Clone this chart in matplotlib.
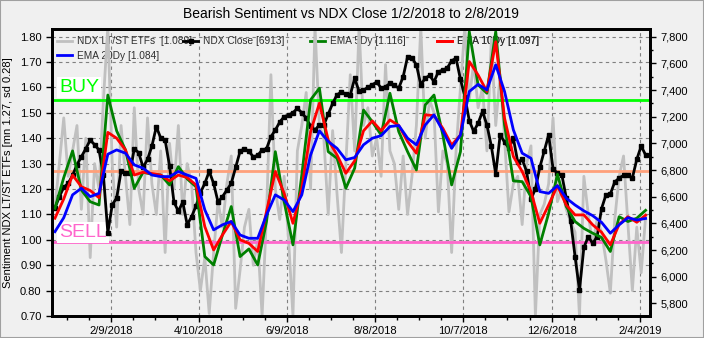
import pandas as pd
import matplotlib
matplotlib.use("Agg")
import matplotlib.pyplot as plt
import matplotlib.ticker as mticker
import matplotlib.transforms as mtransforms
from matplotlib.patches import Rectangle

plt.rcParams['font.family'] = ['Liberation Sans', 'DejaVu Sans']

# raw sentiment, every 3rd day 1/2/2018 .. 2/8/2019 (left axis)
sentiment = [
    1.13, 1.30, 1.48, 1.25, 1.35, 1.45, 1.12, 1.40, 0.93, 1.30,
    1.20, 1.55, 1.84, 1.30, 1.05, 1.45, 1.25, 1.06, 1.52, 1.20,
    1.10, 1.48, 1.22, 1.10, 1.35, 0.95, 1.38, 1.20, 1.45, 1.10,
    1.30, 1.22, 0.95, 0.80, 0.93, 0.71, 0.95, 1.15, 1.05, 1.22,
    1.33, 0.73, 0.88, 1.05, 1.12, 0.90, 1.00, 0.70, 1.10, 1.65,
    1.20, 1.08, 1.25, 1.00, 0.70, 1.35, 1.45, 1.58, 1.20, 1.84,
    1.45, 1.40, 1.10, 1.43, 1.18, 0.95, 1.30, 1.65, 1.35, 1.84,
    1.45, 1.52, 1.33, 1.40, 1.25, 1.69, 1.35, 1.30, 1.12, 1.33,
    1.10, 1.25, 1.45, 1.84, 1.40, 1.55, 1.50, 1.11, 1.35, 1.30,
    0.95, 1.35, 1.60, 1.84, 1.55, 1.70, 1.52, 1.60, 1.35, 1.79,
    1.45, 1.65, 1.40, 1.11, 1.22, 1.25, 1.06, 1.30, 1.37, 0.70,
    1.10, 1.14, 1.22, 1.48, 1.15, 1.20, 1.12, 1.07, 1.03, 0.70,
    1.25, 1.10, 0.98, 1.08, 1.03, 0.92, 0.79, 1.08, 1.25, 1.33,
    1.06, 0.80, 1.05, 0.87, 1.089,
]

# NDX close, same dates (right axis)
ndx_close = [
    6515, 6600, 6670, 6700, 6760, 6840, 6900, 6960, 7025, 6990,
    6950, 6760, 6330, 6540, 6590, 6790, 6780, 6775, 6960, 6930,
    6820, 6880, 6980, 7125, 7040, 7025, 6830, 6560, 6490, 6560,
    6390, 6450, 6530, 6630, 6700, 6790, 6700, 6560, 6600, 6650,
    6700, 6820, 6940, 6960, 6940, 6900, 6910, 6950, 6960, 7050,
    7100, 7160, 7200, 7213, 7230, 7263, 7230, 7190, 7130, 7100,
    7138, 7138, 7220, 7300, 7365, 7385, 7370, 7363, 7488, 7390,
    7400, 7420, 7440, 7460, 7415, 7425, 7450, 7435, 7415, 7500,
    7650, 7640, 7590, 7440, 7488, 7510, 7463, 7538, 7550, 7565,
    7620, 7638, 7480, 7350, 7170, 7090, 7150, 7240, 7138, 6980,
    6770, 7063, 7010, 6963, 7038, 6860, 6880, 6790, 6580, 6660,
    6820, 6940, 7063, 6810, 6775, 6763, 6590, 6420, 6150, 5900,
    6220, 6300, 6250, 6300, 6510, 6613, 6620, 6710, 6740, 6760,
    6760, 6740, 6880, 6980, 6913,
]

# EMAs, every 6th day
ema5 = [
    1.124, 1.245, 1.350, 1.196, 1.150, 1.137, 1.570, 1.429, 1.354, 1.203, 1.266, 1.258, 1.255, 1.216, 1.288, 1.240, 1.209,
    0.934, 0.901, 1.019, 1.131, 0.934, 0.964, 0.901, 1.072, 1.347, 1.150, 0.980, 1.255, 1.551, 1.597, 1.347, 1.321, 1.203,
    1.282, 1.511, 1.465, 1.413, 1.577, 1.426, 1.347, 1.275, 1.531, 1.570, 1.413, 1.216, 1.347, 1.820, 1.610, 1.577, 1.820,
    1.452, 1.232, 1.229, 1.170, 0.980, 1.104, 1.258, 1.131, 1.072, 1.045, 1.026, 1.009, 0.954, 1.091, 1.072, 1.085, 1.116,
]
ema10 = [
    1.085, 1.161, 1.255, 1.209, 1.194, 1.166, 1.423, 1.400, 1.354, 1.255, 1.266, 1.261, 1.255, 1.232, 1.255, 1.245, 1.216,
    1.052, 0.960, 1.019, 1.072, 1.000, 0.986, 0.954, 1.111, 1.269, 1.183, 1.065, 1.203, 1.426, 1.538, 1.393, 1.334, 1.262,
    1.311, 1.429, 1.468, 1.429, 1.472, 1.450, 1.387, 1.341, 1.492, 1.489, 1.439, 1.373, 1.413, 1.702, 1.649, 1.584, 1.780,
    1.479, 1.328, 1.269, 1.190, 1.065, 1.137, 1.213, 1.137, 1.098, 1.098, 1.059, 1.030, 0.980, 1.061, 1.091, 1.069, 1.097,
]
ema20 = [
    1.032, 1.087, 1.177, 1.203, 1.170, 1.183, 1.337, 1.354, 1.341, 1.295, 1.282, 1.255, 1.249, 1.249, 1.269, 1.255, 1.242,
    1.118, 1.039, 1.059, 1.072, 1.019, 1.006, 1.006, 1.098, 1.177, 1.157, 1.111, 1.177, 1.334, 1.429, 1.387, 1.360, 1.315,
    1.324, 1.374, 1.400, 1.410, 1.446, 1.450, 1.400, 1.374, 1.452, 1.492, 1.429, 1.360, 1.413, 1.584, 1.612, 1.590, 1.689,
    1.584, 1.433, 1.341, 1.321, 1.190, 1.183, 1.213, 1.164, 1.137, 1.114, 1.095, 1.069, 1.026, 1.059, 1.087, 1.078, 1.084,
]

MEAN = 1.27
BUY = 1.55
SELL = 0.99

START, END = '2018-01-02', '2019-02-08'
x_raw = pd.date_range(START, END, periods=len(sentiment))
x_ndx = pd.date_range(START, END, periods=len(ndx_close))
x_ema = pd.date_range(START, END, periods=len(ema5))

BG = '#F0F0F0'
fig = plt.figure(figsize=(7.04, 3.38), dpi=100, facecolor=BG)
ax = fig.add_axes([52 / 704, 22 / 338, 598 / 704, 287 / 338], facecolor=BG)
ax2 = ax.twinx()

ax.set_xlim(pd.Timestamp('2017-12-31'), pd.Timestamp('2019-02-11'))
ax.set_ylim(0.70, 1.83)
ax2.set_ylim(5705, 7858)

# black line lives on ax but uses the right-hand scale, so EMAs can sit on top
ndx_trans = mtransforms.blended_transform_factory(ax.transData, ax2.transData)

l_raw, = ax.plot(x_raw, sentiment, color='#C0C0C0', lw=2, zorder=1, label='NDX LT/ST ETFs  [1.089]')
ax.axhline(BUY, color='#00FF00', lw=2, zorder=1.5)
ax.axhline(MEAN, color='#FFA07A', lw=2, zorder=1.5)
ax.axhline(SELL, color='#FF66CC', lw=2, zorder=1.5)
ax.text(pd.Timestamp('2018-01-05'), 1.60, 'BUY', color='#00FF00', fontsize=14, va='center', ha='left',
        zorder=1.8, bbox=dict(facecolor='white', edgecolor='none', pad=1.5))
ax.text(pd.Timestamp('2018-01-05'), 1.03, 'SELL', color='#FF66CC', fontsize=14, va='center', ha='left',
        zorder=1.8, bbox=dict(facecolor='white', edgecolor='none', pad=1.5))
l_ndx, = ax.plot(x_ndx, ndx_close, color='black', lw=2, marker='s', ms=2.5, transform=ndx_trans,
                 zorder=2, label='NDX Close [6913]')
l_e5, = ax.plot(x_ema, ema5, color='#008000', lw=2, zorder=3, label='EMA 5Dy [1.116]')
l_e10, = ax.plot(x_ema, ema10, color='#FF0000', lw=2, zorder=4, label='EMA 10Dy [1.097]')
l_e20, = ax.plot(x_ema, ema20, color='#0000FF', lw=2, zorder=5, label='EMA 20Dy [1.084]')

ax.set_title('Bearish Sentiment vs NDX Close 1/2/2018 to 2/8/2019', fontsize=10, pad=8)
ax.set_ylabel('Sentiment NDX LT/ST ETFs [mn 1.27, sd 0.28]', fontsize=8, labelpad=5)

# x ticks every 60 days, minor every 15
major = pd.date_range('2018-02-09', periods=7, freq='60D')
minor = pd.date_range('2018-01-10', '2019-02-11', freq='15D')
ax.xaxis.set_major_locator(mticker.FixedLocator(matplotlib.dates.date2num(major)))
ax.xaxis.set_minor_locator(mticker.FixedLocator(matplotlib.dates.date2num(minor)))
ax.xaxis.set_major_formatter(mticker.FuncFormatter(
    lambda v, p: (lambda d: f'{d.month}/{d.day}/{d.year}')(matplotlib.dates.num2date(v))))

ax.yaxis.set_major_locator(mticker.MultipleLocator(0.1))
ax.yaxis.set_major_formatter(mticker.FormatStrFormatter('%.2f'))
ax2.yaxis.set_major_locator(mticker.MultipleLocator(200))
ax2.yaxis.set_minor_locator(mticker.MultipleLocator(100))
ax2.yaxis.set_major_formatter(mticker.StrMethodFormatter('{x:,.0f}'))

ax.tick_params(axis='both', which='major', direction='out', length=4, width=1, labelsize=8, color='black')
ax.tick_params(axis='x', which='minor', direction='out', length=3, width=1)
ax2.tick_params(axis='y', which='major', direction='out', length=4, width=1, labelsize=8)
ax2.tick_params(axis='y', which='minor', direction='out', length=2, width=1)

ax.grid(True, which='major', linestyle=(0, (3, 3)), color='#808080', lw=0.8)
ax.set_axisbelow(True)
for a in (ax, ax2):
    for s in a.spines.values():
        s.set_linewidth(2)
        s.set_color('black')

# legend: four fixed-width columns like the original, drawn under the data lines
legend_cols = [([l_raw, l_e20], 57), ([l_ndx], 183), ([l_e5], 310), ([l_e10], 437)]
for handles, px in legend_cols:
    leg = ax.legend(handles=handles, loc='upper left', bbox_to_anchor=((px - 52) / 598, 0.975),
                    frameon=False, fontsize=7.3, handlelength=1.5, handletextpad=0.5,
                    borderpad=0, borderaxespad=0, labelspacing=0.45)
    for t in leg.get_texts():
        t.set_color('#303030')
    leg.set_zorder(0.9)
    ax.add_artist(leg)

fig.patches.append(Rectangle((0, 0), 1, 1, transform=fig.transFigure, fill=False,
                             edgecolor='#A0A0A0', lw=1.5))

fig.savefig('out.png', dpi=100, facecolor=BG)
